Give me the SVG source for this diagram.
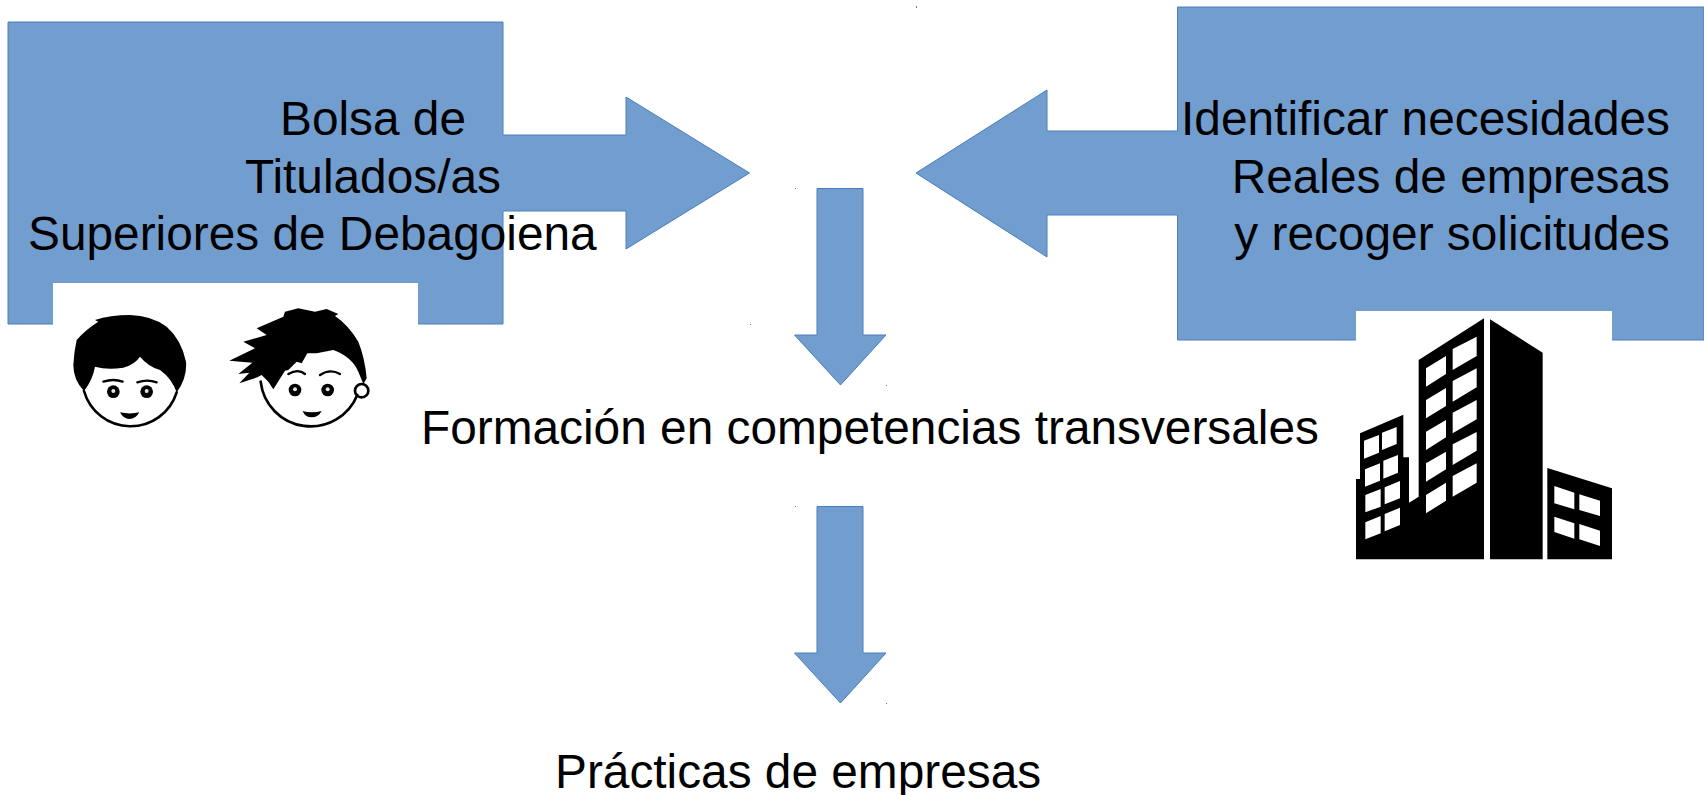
<svg xmlns="http://www.w3.org/2000/svg" width="1704" height="795" viewBox="0 0 1704 795">
<style>
.s{fill:#729dcf;stroke:#4a7ebb;stroke-width:1}
.t{font-family:"Liberation Sans",Arial,sans-serif;font-size:47.8px;fill:#000}
.k{fill:#000}
.w{fill:#fff}
.e{fill:#e4e4e4}
.l{fill:none;stroke:#000;stroke-linecap:round}
.d{fill:#4a7ebb}
</style>
<defs><filter id="soft" x="-5%" y="-5%" width="110%" height="110%"><feGaussianBlur stdDeviation="0.45"/></filter></defs>
<rect width="1704" height="795" fill="#fff"/>
<g id="connectors">
<path class="s" d="M817 188.500H863V335H886L840.500 385L794.500 335H817Z"/>
<path class="s" d="M817 506.500H863V653H886L840.500 703L794.500 653H817Z"/>
</g>
<g id="bolsa">
<path class="s" d="M8 22H503V135H626V97L749.500 173L626 249V211H503V324H8Z"/>
<rect class="w" x="53" y="283" width="365" height="60"/>
<g id="face-1" transform="translate(60 305) scale(.33333)" filter="url(#soft)">
<path class="l" stroke-width="8" d="M72 258A145 145 0 0 0 350 262"/>
<path class="k" d="M105 45Q150 30 210 30Q275 32 320 65Q365 105 378 170Q382 220 350 262Q335 220 300 195Q265 185 240 155Q225 178 190 188Q140 195 105 185Q98 225 72 258Q40 225 40 180Q42 140 50 105Q75 75 115 50Z"/>
<path class="l" stroke-width="7" d="M130 230Q160 220 188 230M232 232Q262 222 290 232"/>
<circle class="k" cx="160" cy="260" r="19"/><circle class="e" cx="160" cy="258" r="6"/>
<circle class="k" cx="260" cy="260" r="19"/><circle class="e" cx="260" cy="258" r="6"/>
<path class="k" d="M180 322Q210 329 238 322Q228 342 208 342Q190 342 180 322Z"/>
</g>
<g id="face-2" transform="translate(220 300) scale(.33333)" filter="url(#soft)">
<path class="l" stroke-width="8" d="M122 245A151 151 0 0 0 412 285"/>
<path class="k" d="M195 35L235 25L285 35L320 27L355 42L345 48Q385 75 415 125Q435 175 440 235L430 252L415 215Q395 170 340 150L290 160L262 160L245 190L230 185L205 210L195 212L160 268L145 245L125 225L112 232L58 250L88 218L55 222L97 188L28 182L105 145L70 125L140 105L110 85L190 50Z"/>
<path class="l" stroke-width="7" d="M205 222Q235 205 255 222M300 225Q330 205 360 222"/>
<circle class="k" cx="225" cy="270" r="19"/><circle class="e" cx="225" cy="268" r="6"/>
<circle class="k" cx="323" cy="270" r="19"/><circle class="e" cx="323" cy="268" r="6"/>
<path class="k" d="M248 333Q275 340 305 333Q295 352 275 352Q255 352 248 333Z"/>
<circle cx="425" cy="272" r="20" fill="none" stroke="#000" stroke-width="8"/>
</g>
</g>
<g id="necesidades">
<path class="s" d="M1704 7H1177.500V131H1047V90L916 173L1047 257V215H1177.500V340H1704Z"/>
<rect class="w" x="1356" y="311" width="256" height="255"/>
<g id="building" transform="translate(1340 300) scale(.33333)" filter="url(#soft)">
<path class="k" d="M48 778V537H60V400L190 344V472H207V608L236 590V180L432 55V778Z"/>
<path class="k" d="M450 58L608 158V778H450Z"/>
<path class="k" d="M622 504L816 565V778H622Z"/>
<path class="w" d="M258 205L318 168V222L258 260ZM258 300L318 264V318L258 355ZM258 395L318 360V412L258 450ZM258 490L318 455V508L258 545ZM258 585L318 548V602L258 640Z"/>
<path class="w" d="M338 147L410 110V168L338 210ZM338 243L410 205V262L338 305ZM338 338L410 300V358L338 400ZM338 433L410 396V452L338 495ZM338 528L410 490V548L338 590Z"/>
<path class="w" d="M72 422L117 405V458L72 476ZM75 508L120 490V542L75 560ZM76 585L122 567V620L76 637ZM76 667L122 648V700L76 718Z"/>
<path class="w" d="M126 398L170 381V432L126 450ZM130 482L174 465V518L130 536ZM134 562L180 543V595L134 613ZM134 642L180 623V675L134 694Z"/>
<path class="w" d="M643 558L703 578V628L643 610ZM718 583L780 602V648L718 630ZM643 650L703 670V716L643 696ZM718 672L780 692V738L718 718Z"/>
</g>
</g>
<g id="specks">
<rect class="d" x="916" y="6" width="1" height="2"/>
<rect class="d" x="795" y="188" width="1" height="1"/>
<rect class="d" x="750" y="324" width="1" height="1"/>
<rect class="d" x="886" y="385" width="1" height="1"/>
<rect class="d" x="795" y="506" width="1" height="1"/>
<rect class="d" x="886" y="703" width="1" height="1"/>
</g>
<g id="labels">
<text class="t" x="280" y="135">Bolsa de</text>
<text class="t" x="245" y="193">Titulados/as</text>
<text class="t" x="28" y="250">Superiores de Debagoiena</text>
<text class="t" x="1670" y="135" text-anchor="end">Identificar necesidades</text>
<text class="t" x="1670" y="193" text-anchor="end">Reales de empresas</text>
<text class="t" x="1670" y="250" text-anchor="end">y recoger solicitudes</text>
<text class="t" x="421" y="444">Formación en competencias transversales</text>
<text class="t" x="555" y="788">Prácticas de empresas</text>
</g>
</svg>
